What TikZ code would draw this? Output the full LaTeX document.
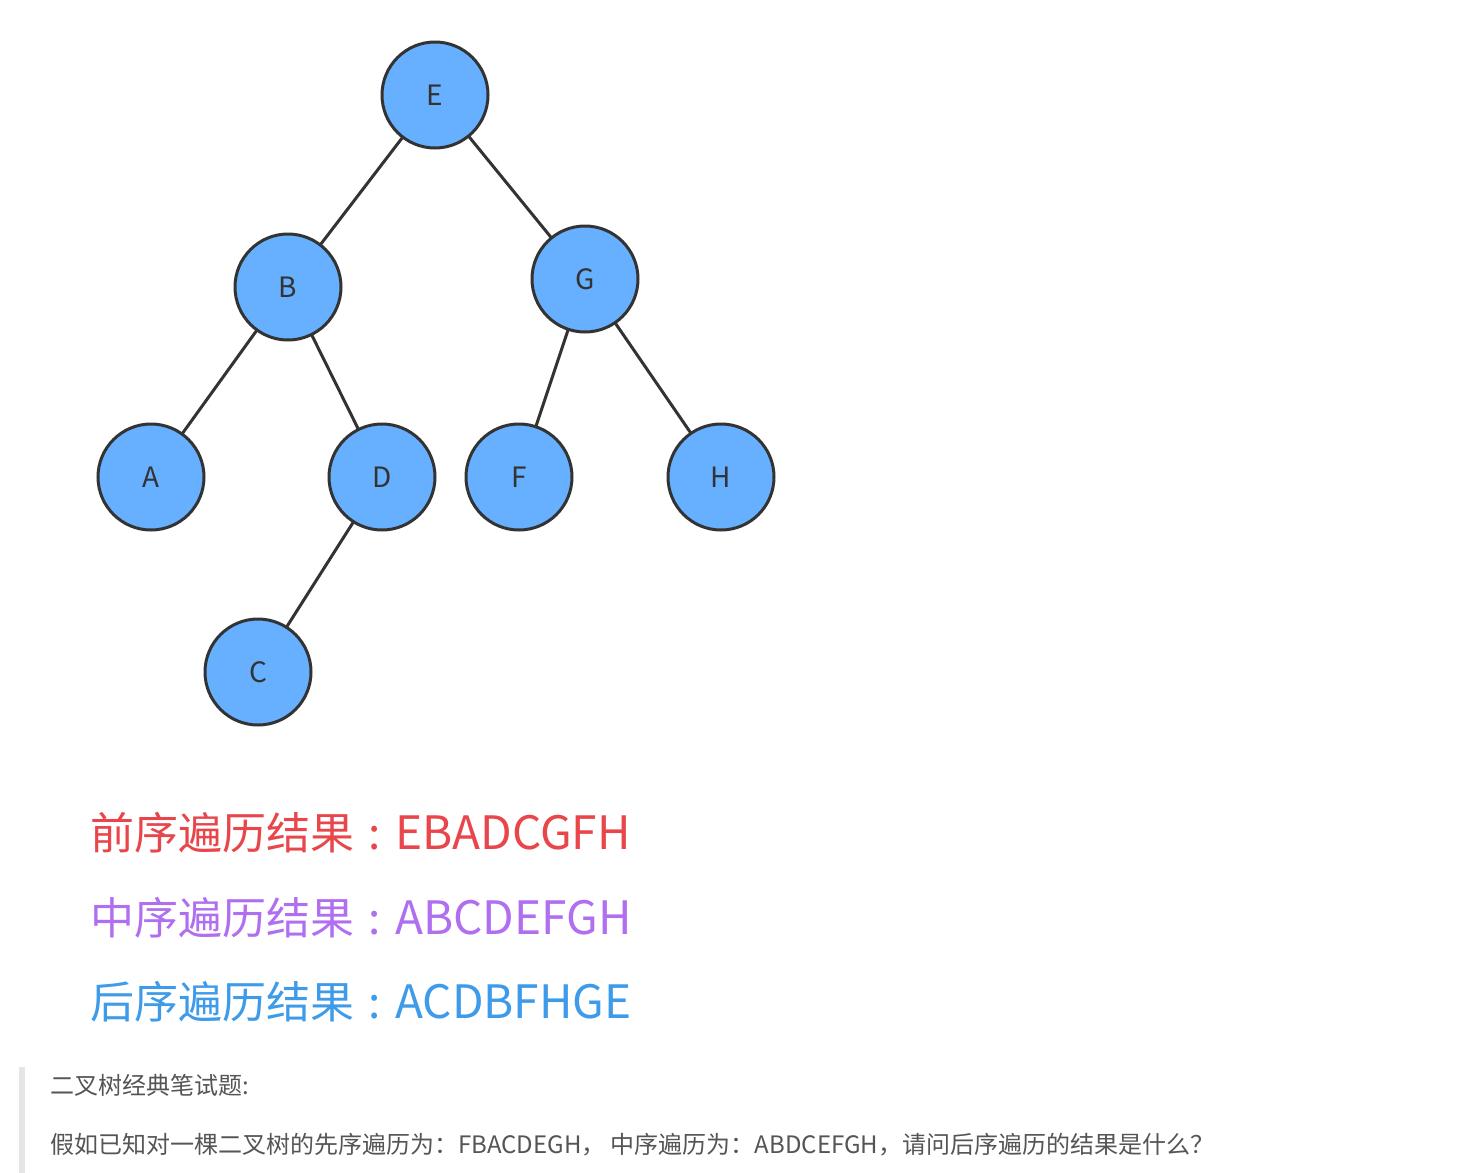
\documentclass[tikz,border=0pt]{standalone}
\usepackage{fontspec}
\setmainfont{Noto Sans CJK SC}
\newfontfamily\cjk{Noto Sans CJK SC}
\definecolor{nodefill}{HTML}{66B0FF}
\definecolor{edgecol}{HTML}{333333}
\definecolor{redtxt}{HTML}{E8464B}
\definecolor{purptxt}{HTML}{B06EF0}
\definecolor{bluetxt}{HTML}{3E9BEA}
\definecolor{graytxt}{HTML}{555555}
\definecolor{barcol}{HTML}{E6E6E6}
\newcommand{\rescolon}{\makebox[41pt][c]{:}}
\newcommand{\reslatin}[1]{{\fontsize{46}{48}\selectfont #1}}
\tikzset{
  treenode/.style={circle, draw=edgecol, line width=3pt, fill=nodefill, minimum size=106pt, inner sep=0pt, text=edgecol, font=\cjk\fontsize{28}{30}\selectfont},
  treeedge/.style={draw=edgecol, line width=3pt},
  bigline/.style={anchor=west, inner sep=0pt, font=\cjk\fontsize{44}{48}\selectfont},
  smallline/.style={anchor=west, inner sep=0pt, text=graytxt, font=\cjk\fontsize{24}{26}\selectfont}
}
\begin{document}
\begin{tikzpicture}[x=1pt,y=-1pt]
\useasboundingbox (0,0) rectangle (1465,1173);
\fill[white] (0,0) rectangle (1465,1173);
\coordinate (cE) at (435,95);
\coordinate (cB) at (288,287);
\coordinate (cG) at (585,279);
\coordinate (cA) at (151,477);
\coordinate (cD) at (382,477);
\coordinate (cF) at (519,477);
\coordinate (cH) at (721,477);
\coordinate (cC) at (258,672);
\draw[treeedge] (cE) -- (cB);
\draw[treeedge] (cE) -- (cG);
\draw[treeedge] (cB) -- (cA);
\draw[treeedge] (cB) -- (cD);
\draw[treeedge] (cG) -- (cF);
\draw[treeedge] (cG) -- (cH);
\draw[treeedge] (cD) -- (cC);
\node[treenode] (E) at (cE) {E};
\node[treenode] (B) at (cB) {B};
\node[treenode] (G) at (cG) {G};
\node[treenode] (A) at (cA) {A};
\node[treenode] (D) at (cD) {D};
\node[treenode] (F) at (cF) {F};
\node[treenode] (H) at (cH) {H};
\node[treenode] (C) at (cC) {C};
\node[bigline, text=redtxt] (pre) at (90,833) {前序遍历结果\rescolon\reslatin{EBADCGFH}};
\node[bigline, text=purptxt] (mid) at (90,918) {中序遍历结果\rescolon\reslatin{ABCDEFGH}};
\node[bigline, text=bluetxt] (post) at (90,1002) {后序遍历结果\rescolon\reslatin{ACDBFHGE}};
\fill[barcol] (19,1067) rectangle (25,1173);
\node[smallline] (q1) at (50,1085) {二叉树经典笔试题:};
\node[smallline] (q2) at (50,1145) {假如已知对一棵二叉树的先序遍历为：FBACDEGH， 中序遍历为：ABDCEFGH，请问后序遍历的结果是什么？};
\end{tikzpicture}
\end{document}
